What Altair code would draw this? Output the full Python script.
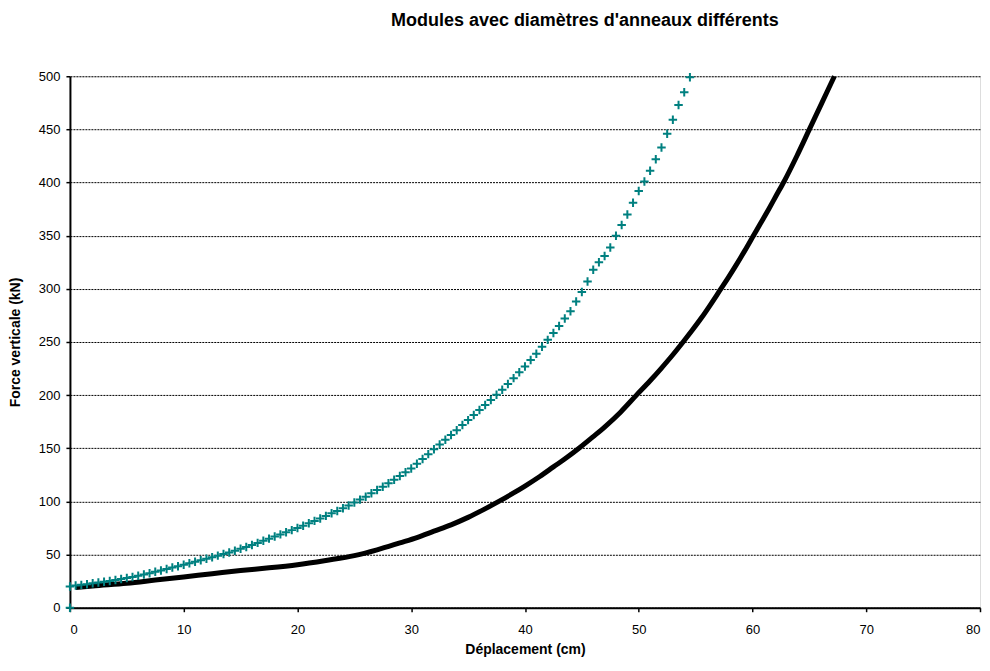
import altair as alt
import pandas as pd

# Series 1 (teal crosses): displacement (cm) and vertical force (kN)
teal_x = [0, 0, 0.5, 1, 1.5, 2, 2.5, 3, 3.5, 4, 4.5, 5, 5.5, 6, 6.5, 7, 7.5, 8, 8.5, 9, 9.5,
          10, 10.5, 11, 11.5, 12, 12.5, 13, 13.5, 14, 14.5, 15, 15.5, 16, 16.5, 17, 17.5,
          18, 18.5, 19, 19.5, 20, 20.5, 21, 21.5, 22, 22.5, 23, 23.5, 24, 24.5, 25, 25.5,
          26, 26.5, 27, 27.5, 28, 28.5, 29, 29.5, 30, 30.5, 31, 31.5, 32, 32.5, 33, 33.5,
          34, 34.5, 35, 35.5, 36, 36.5, 37, 37.5, 38, 38.5, 39, 39.5, 40, 40.5, 41, 41.5,
          42, 42.5, 43, 43.5, 44, 44.5, 45, 45.5, 46, 46.5, 47, 47.5, 48, 48.5, 49, 49.5,
          50, 50.5, 51, 51.5, 52, 52.5, 53, 53.5, 54, 54.5]
teal_y = [0, 20, 21, 21.5, 22, 23, 23.7, 24.4, 25.2, 26, 27, 28, 29, 30, 31.2, 32.5, 33.8, 35, 36.4, 37.8, 39.1,
          40.5, 41.9, 43.2, 44.6, 46, 47.5, 49, 50.5, 52, 53.7, 55.4, 57.2, 59, 61, 63, 65,
          67, 69, 71, 73, 75, 77.2, 79.5, 81.7, 84, 86.4, 88.8, 91.1, 93.5, 96.2, 99, 101.7,
          104.5, 107.6, 110.7, 113.9, 117, 120.5, 124, 127.5, 131, 135.5, 140, 144.5, 149, 153.5, 158, 162.5,
          167, 171.8, 176.5, 181.3, 186, 190.8, 195.5, 200.3, 205, 210.5, 216, 221.5, 227, 233, 239, 245.5,
          252, 258.5, 265, 272, 279, 288, 297, 307, 318, 325, 331, 339, 350, 360, 370, 381,
          392, 401, 411, 422, 433, 446, 459, 473, 485, 499]

# Series 2 (black): displacement (cm) and vertical force (kN)
black_x = [0.5, 2, 5, 7.5, 10, 12.5, 15, 17.5, 20, 22.5, 25, 27, 29, 30.5, 32, 33.5, 35, 36.4,
           37.7, 39, 40, 41.3, 42.5, 43.7, 44.8, 46, 47, 48.4, 49.8, 51, 52, 53, 53.9, 54.7,
           55.5, 56.3, 57.1, 57.9, 58.6, 59.3, 60, 60.7, 61.4, 62.1, 62.8, 63.9, 65, 66.1, 67.2]
black_y = [19, 20.5, 23, 26, 29, 32, 35, 37.5, 40.5, 44.5, 49, 54.5, 61, 66, 72, 78, 85, 92.5,
           100, 108, 114.5, 123.5, 132.5, 141.5, 150.5, 161, 170, 184, 200, 213.5, 225.5, 238, 250, 261,
           272.5, 285, 298, 311, 323, 335.5, 348.5, 361.5, 374.5, 388, 401.5, 425, 450, 475, 500]

x_ticks = [0, 10, 20, 30, 40, 50, 60, 70, 80]
y_ticks = [0, 50, 100, 150, 200, 250, 300, 350, 400, 450, 500]

teal_df = pd.DataFrame({"x": teal_x, "y": teal_y})
black_df = pd.DataFrame({"x": black_x, "y": black_y})

FONT = "Liberation Sans"

xscale = alt.Scale(domain=[0, 80], nice=False, zero=True)
yscale = alt.Scale(domain=[0, 500], nice=False, zero=True)

xaxis = alt.Axis(values=x_ticks, title="Déplacement (cm)", grid=False,
                 tickSize=4, tickColor="black", tickWidth=1.5,
                 domainColor="black", domainWidth=2,
                 labelPadding=12, labelFontSize=13, labelFont=FONT, labelColor="black",
                 titleFont=FONT, titleFontSize=14, titleFontWeight="bold", titleColor="black",
                 titlePadding=6)
yaxis = alt.Axis(values=y_ticks, title="Force verticale (kN)", grid=True,
                 gridColor="black", gridDash=[2, 1], gridWidth=1,
                 tickSize=4, tickColor="black", tickWidth=1.5,
                 domainColor="black", domainWidth=2,
                 labelPadding=6, labelFontSize=13, labelFont=FONT, labelColor="black",
                 titleFont=FONT, titleFontSize=14, titleFontWeight="bold", titleColor="black",
                 titlePadding=16)

black_line = alt.Chart(black_df).mark_line(color="black", strokeWidth=5, interpolate="monotone").encode(
    x=alt.X("x:Q", scale=xscale, axis=xaxis),
    y=alt.Y("y:Q", scale=yscale, axis=yaxis),
)

teal_pts = alt.Chart(teal_df).mark_point(
    shape="M-1,0L1,0M0,-1L0,1", size=72, filled=False, stroke="#008080", strokeWidth=2, opacity=1
).encode(
    x=alt.X("x:Q", scale=xscale),
    y=alt.Y("y:Q", scale=yscale),
)

chart = alt.layer(black_line, teal_pts).properties(
    width=911,
    height=532,
    title=alt.TitleParams(
        text="Modules avec diamètres d'anneaux différents",
        anchor="middle", dx=60, offset=18, baseline="bottom",
        font=FONT, fontSize=18, fontWeight="bold", color="black",
    ),
    autosize=alt.AutoSizeParams(type="none"),
    padding={"left": 62, "top": 68, "right": 2, "bottom": 50},
).configure_view(stroke="#888888", strokeWidth=1).configure(background="white")

chart.save("out.html", embed_options={"renderer": "svg", "actions": False})
